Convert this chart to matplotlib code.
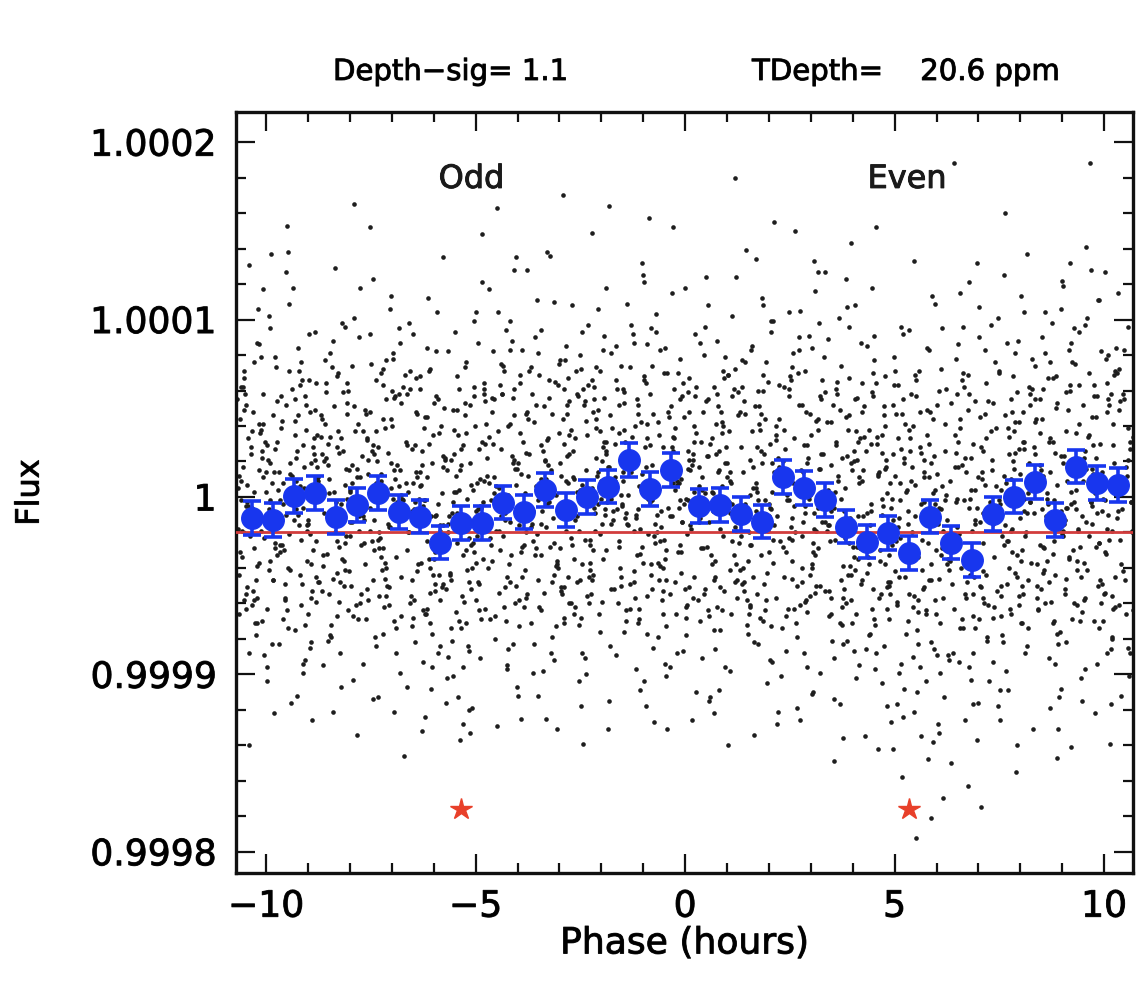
import matplotlib
matplotlib.use("Agg")
import matplotlib.pyplot as plt
import matplotlib.patheffects as pe
from matplotlib.ticker import FixedLocator, MultipleLocator

# ---------------- data ----------------
# binned points: phase (hours) and flux offset (ppm)
bin_phase = [-10.34, -9.84, -9.34, -8.84, -8.34, -7.84, -7.34, -6.84, -6.34, -5.84,
             -5.34, -4.84, -4.34, -3.84, -3.34, -2.84, -2.34, -1.84, -1.34, -0.84,
             -0.34,
             0.34, 0.84, 1.34, 1.84, 2.34, 2.84, 3.34, 3.84, 4.34, 4.84,
             5.34, 5.84, 6.34, 6.84, 7.34, 7.84, 8.34, 8.84, 9.34, 9.84,
             10.34]
bin_ppm = [-12.0, -13.0, 0.6, 2.1, -11.4, -4.5, 2.4, -8.3, -11.1, -25.7,
           -14.8, -14.8, -3.2, -8.3, 3.9, -7.3, -0.2, 5.8, 20.8, 4.3,
           15.2,
           -5.1, -4.5, -9.6, -13.9, 11.4, 4.9, -1.7, -16.7, -25.2, -20.5,
           -31.7, -11.1, -25.7, -35.5, -9.6, 0.2, 8.6, -13.0, 17.1, 7.7,
           6.8]
bin_err_ppm = [9.5] * len(bin_ppm)

model_flux = 0.9999803        # red transit-depth line
star_phase = [-5.35, 5.35]
star_flux = [0.999824, 0.999824]
label_phase = [-5.1, 5.3]
label_text = ["Odd", "Even"]
label_flux = 1.000179

x_ticks = [-10, -5, 0, 5, 10]
y_ticks = [0.9998, 0.9999, 1.0, 1.0001, 1.0002]
y_tick_labels = ["0.9998", "0.9999", "1", "1.0001", "1.0002"]

# unbinned photometry: phase (hours) and flux offset (ppm), estimated by eye
dot_phase = []
dot_ppm = []
# -10.7 .. -9.7
dot_phase += [-10.65,-10.58,-10.52,-10.47,-10.41,-10.36,-10.30,-10.24,-10.19,-10.13]
dot_ppm   += [12,-34,71,-5,-88,28,3,-47,106,-19]
dot_phase += [-10.08,-10.02,-9.97,-9.91,-9.86,-9.80,-9.75,-10.61,-10.44,-10.27]
dot_ppm   += [41,-12,-63,19,8,-29,54,-2,33,-71]
dot_phase += [-10.10,-9.94,-9.77,-10.55,-10.38,-10.21,-10.05,-9.88,-9.72,-10.49]
dot_ppm   += [22,-41,-16,62,-9,87,-23,137,4,-55]
dot_phase += [-10.33,-10.16,-9.99,-9.83,-10.63,-10.45,-10.28,-10.11,-9.95,-9.79]
dot_ppm   += [37,15,-96,46,-31,7,-58,26,-11,79]
dot_phase += [-10.68,-10.52,-10.35,-10.18,-10.01,-9.85,-9.73,-10.40,-10.07,-9.90]
dot_ppm   += [-18,49,-6,-37,14,-83,31,-140,58,-3]
dot_phase += [-10.67,-10.39,-10.12,-9.84,-10.56,-10.26,-9.99,-9.73,-10.48,-10.20]
dot_ppm   += [5,-22,38,-47,17,-8,29,-33,52,-14]
dot_phase += [-9.92,-10.62,-10.34,-10.07,-9.79,-10.53,-10.23,-9.96,-10.43,-10.15]
dot_ppm   += [-2,44,-61,11,-26,67,-39,21,-5,36]
dot_phase += [-9.88,-10.59,-10.31,-10.03,-9.76,-10.51,-10.28,-10.01,-10.64,-10.37]
dot_ppm   += [-18,9,-53,31,-11,58,-29,3,-44,24]
dot_phase += [-10.09,-9.82,-10.45,-10.17,-9.90,-10.57,-10.30,-9.94,-9.78,-10.22]
dot_ppm   += [-70,14,-3,41,-36,-19,76,-7,27,-57]
dot_phase += [-10.60,-10.25,-9.90,-10.45,-10.08,-10.65,-10.32,-9.98,-9.77,-10.53]
dot_ppm   += [62,-78,95,-51,117,-66,48,-104,73,-58]
dot_phase += [-10.17,-9.84,-10.40,-10.04,-10.69,-10.22,-9.94,-10.49,-10.13,-9.81]
dot_ppm   += [86,-47,131,-89,55,-71,102,-63,79,-122]
# -9.7 .. -8.7
dot_phase += [-9.66,-9.60,-9.53,-9.49,-9.42,-9.37,-9.31,-9.26,-9.20,-9.14]
dot_ppm   += [-27,8,52,-74,19,-3,35,-112,-44,66]
dot_phase += [-9.09,-9.03,-8.98,-8.92,-8.87,-8.81,-8.76,-9.63,-9.46,-9.28]
dot_ppm   += [5,-16,92,-38,24,-59,11,43,-21,-7]
dot_phase += [-9.11,-8.95,-8.78,-9.56,-9.39,-9.23,-9.06,-8.89,-8.73,-9.51]
dot_ppm   += [29,-85,17,-49,61,-10,38,-30,2,153]
dot_phase += [-9.34,-9.17,-9.00,-8.84,-9.68,-9.44,-9.29,-9.12,-8.96,-8.80]
dot_ppm   += [-13,76,-66,21,-2,-41,9,-94,48,-25]
dot_phase += [-9.69,-9.55,-9.36,-9.19,-9.02,-8.86,-8.74,-9.41,-9.08,-8.91]
dot_ppm   += [14,-57,118,6,-19,33,-48,-1,57,-126]
dot_phase += [-9.67,-9.39,-9.12,-8.84,-9.56,-9.26,-8.99,-8.73,-9.48,-9.20]
dot_ppm   += [-31,12,-6,49,-58,26,-15,7,-40,63]
dot_phase += [-8.92,-9.62,-9.34,-9.07,-8.79,-9.53,-9.23,-8.96,-9.43,-9.15]
dot_ppm   += [19,-27,4,-72,35,-10,46,-21,13,-49]
dot_phase += [-8.88,-9.59,-9.31,-9.03,-8.76,-9.51,-9.28,-9.01,-9.64,-9.37]
dot_ppm   += [28,-4,55,-36,9,-64,22,-13,39,-1]
dot_phase += [-9.09,-8.82,-9.45,-9.17,-8.90,-9.57,-9.30,-8.94,-8.78,-9.22]
dot_ppm   += [17,-45,71,-24,6,-30,43,-82,10,-16]
dot_phase += [-9.60,-9.25,-8.90,-9.45,-9.08,-9.65,-9.32,-8.98,-8.77,-9.53]
dot_ppm   += [-69,84,-53,109,-92,57,-75,66,-48,127]
dot_phase += [-9.17,-8.84,-9.40,-9.04,-9.69,-9.22,-8.94,-9.49,-9.13,-8.81]
dot_ppm   += [-61,93,-116,52,-83,71,-57,138,-99,64]
# -8.7 .. -7.7
dot_phase += [-8.67,-8.61,-8.55,-8.48,-8.43,-8.38,-8.32,-8.25,-8.21,-8.15]
dot_ppm   += [44,-9,-32,81,-15,3,-67,25,-4,-50]
dot_phase += [-8.10,-8.04,-7.99,-7.93,-7.88,-7.82,-7.76,-8.64,-8.47,-8.30]
dot_ppm   += [16,60,-22,-103,37,-6,11,-39,-78,28]
dot_phase += [-8.13,-7.96,-7.79,-8.58,-8.40,-8.23,-8.07,-7.90,-7.74,-8.52]
dot_ppm   += [7,-14,90,22,-46,-88,-1,51,-27,18]
dot_phase += [-8.35,-8.18,-8.01,-7.85,-8.69,-8.45,-8.28,-8.12,-7.97,-7.80]
dot_ppm   += [129,-35,4,-61,34,-12,70,-26,-8,41]
dot_phase += [-8.66,-8.50,-8.36,-8.19,-8.02,-7.86,-7.72,-8.41,-8.08,-7.91]
dot_ppm   += [-53,10,-20,98,-42,-3,23,-121,64,165]
dot_phase += [-8.67,-8.39,-8.12,-7.84,-8.56,-8.26,-7.99,-7.73,-8.48,-8.20]
dot_ppm   += [24,-9,-41,16,59,-28,3,-55,34,-12]
dot_phase += [-7.92,-8.62,-8.34,-8.07,-7.79,-8.53,-8.23,-7.96,-8.43,-8.15]
dot_ppm   += [-67,20,-3,47,-19,30,-48,8,73,-36]
dot_phase += [-7.88,-8.59,-8.31,-8.03,-7.76,-8.51,-8.28,-8.01,-8.64,-8.37]
dot_ppm   += [-7,41,-25,15,-60,2,37,-14,-33,51]
dot_phase += [-8.09,-7.82,-8.45,-8.17,-7.90,-8.57,-8.30,-7.94,-7.78,-8.22]
dot_ppm   += [-22,11,-79,26,-5,64,-43,18,-11,33]
dot_phase += [-8.60,-8.25,-7.90,-8.45,-8.08,-8.65,-8.32,-7.98,-7.77,-8.53]
dot_ppm   += [77,-59,101,-72,53,-95,68,-50,118,-81]
dot_phase += [-8.17,-7.84,-8.40,-8.04,-8.69,-8.22,-7.94,-8.49,-8.13,-7.81]
dot_ppm   += [59,-134,88,-64,46,-107,74,-55,96,-69]
# -7.7 .. -6.7
dot_phase += [-7.68,-7.62,-7.56,-7.50,-7.44,-7.39,-7.33,-7.27,-7.22,-7.16]
dot_ppm   += [-11,47,-58,5,29,-84,-24,13,72,-37]
dot_phase += [-7.11,-7.05,-6.99,-6.94,-6.88,-6.83,-6.77,-7.65,-7.48,-7.31]
dot_ppm   += [1,-17,40,-70,18,95,-45,-6,26,-29]
dot_phase += [-7.14,-6.97,-6.80,-7.59,-7.42,-7.25,-7.08,-6.91,-6.74,-7.53]
dot_ppm   += [55,-1,-99,33,-13,9,-51,-34,62,-19]
dot_phase += [-7.36,-7.19,-7.02,-6.86,-7.70,-7.46,-7.30,-7.13,-6.98,-6.81]
dot_ppm   += [20,-62,113,-8,37,-114,3,-40,78,15]
dot_phase += [-7.67,-7.52,-7.37,-7.20,-7.03,-6.87,-6.72,-7.43,-7.09,-6.92]
dot_ppm   += [-26,152,8,-77,44,-3,-146,24,-15,57]
dot_phase += [-7.67,-7.39,-7.12,-6.84,-7.56,-7.26,-6.99,-6.73,-7.48,-7.20]
dot_ppm   += [-13,37,-50,6,21,-34,60,-2,-25,44]
dot_phase += [-6.92,-7.62,-7.34,-7.07,-6.79,-7.53,-7.23,-6.96,-7.43,-7.15]
dot_ppm   += [10,-69,28,-17,53,-6,-41,15,-30,77]
dot_phase += [-6.88,-7.59,-7.31,-7.03,-6.76,-7.51,-7.28,-7.01,-7.64,-7.37]
dot_ppm   += [-9,32,-56,19,-1,48,-23,5,-38,66]
dot_phase += [-7.09,-6.82,-7.45,-7.17,-6.90,-7.57,-7.30,-6.94,-6.78,-7.22]
dot_ppm   += [25,-12,-47,39,-74,13,-20,56,1,-29]
dot_phase += [-7.60,-7.25,-6.90,-7.45,-7.08,-7.65,-7.32,-6.98,-6.77,-7.53]
dot_ppm   += [-52,70,-88,123,-61,49,-113,81,-67,92]
dot_phase += [-7.17,-6.84,-7.40,-7.04,-7.69,-7.22,-6.94,-7.49,-7.13,-6.81]
dot_ppm   += [-46,58,-79,106,-94,63,-121,75,-56,87]
# -6.7 .. -5.7
dot_phase += [-6.66,-6.61,-6.54,-6.49,-6.43,-6.37,-6.32,-6.26,-6.20,-6.15]
dot_ppm   += [31,-20,-56,8,67,-38,14,-93,-2,45]
dot_phase += [-6.09,-6.04,-5.98,-5.93,-5.87,-5.81,-5.76,-6.63,-6.46,-6.29]
dot_ppm   += [-71,19,-11,104,-44,2,-28,58,-7,26]
dot_phase += [-6.12,-5.95,-5.78,-6.57,-6.40,-6.24,-6.07,-5.90,-5.73,-6.51]
dot_ppm   += [-35,82,-16,-60,11,39,-108,-4,21,-47]
dot_phase += [-6.34,-6.17,-6.00,-5.84,-6.68,-6.44,-6.27,-6.11,-5.96,-5.79]
dot_ppm   += [6,-25,53,-84,-12,29,-132,71,-53,17]
dot_phase += [-6.65,-6.50,-6.35,-6.18,-6.02,-5.86,-5.71,-6.42,-6.08,-5.91]
dot_ppm   += [-30,92,-1,-66,35,-19,-116,48,-40,-88]
dot_phase += [-6.67,-6.39,-6.12,-5.84,-6.56,-6.26,-5.99,-5.73,-6.48,-6.20]
dot_ppm   += [8,-42,30,-16,61,-5,-35,22,-58,45]
dot_phase += [-5.92,-6.62,-6.34,-6.07,-5.79,-6.53,-6.23,-5.96,-6.43,-6.15]
dot_ppm   += [-24,3,68,-11,-49,27,-2,-31,14,-63]
dot_phase += [-5.88,-6.59,-6.31,-6.03,-5.76,-6.51,-6.28,-6.01,-6.64,-6.37]
dot_ppm   += [36,-20,7,-77,50,-8,18,-44,29,-15]
dot_phase += [-6.09,-5.82,-6.45,-6.17,-5.90,-6.57,-6.30,-5.94,-5.78,-6.22]
dot_ppm   += [-54,40,-3,11,-28,71,-37,-10,23,-66]
dot_phase += [-6.60,-6.25,-5.90,-6.45,-6.08,-6.65,-6.32,-5.98,-5.77,-6.53]
dot_ppm   += [98,-64,55,-82,72,-107,61,-49,135,-73]
dot_phase += [-6.17,-5.84,-6.40,-6.04,-6.69,-6.22,-5.94,-6.49,-6.13,-5.81]
dot_ppm   += [84,-58,47,-96,69,-124,57,-68,112,-51]
# -5.7 .. -4.7
dot_phase += [-5.68,-5.62,-5.55,-5.51,-5.45,-5.39,-5.34,-5.28,-5.22,-5.16]
dot_ppm   += [15,-43,-101,24,-9,61,-74,-18,36,-120]
dot_phase += [-5.11,-5.06,-5.00,-4.94,-4.89,-4.83,-4.78,-5.65,-5.48,-5.31]
dot_ppm   += [-27,4,-58,87,-5,-35,30,-90,12,-128]
dot_phase += [-5.14,-4.97,-4.80,-5.59,-5.42,-5.25,-5.09,-4.92,-4.75,-5.53]
dot_ppm   += [52,-22,9,-47,-113,73,-14,-64,41,-3]
dot_phase += [-5.36,-5.19,-5.03,-4.86,-5.70,-5.46,-5.30,-5.13,-4.98,-4.81]
dot_ppm   += [27,-84,-31,148,-52,3,-96,19,-8,64]
dot_phase += [-5.67,-5.52,-5.37,-5.20,-5.04,-4.88,-4.73,-5.44,-5.10,-4.93]
dot_ppm   += [-15,38,-137,-41,99,-69,22,-26,7,-49]
dot_phase += [-5.67,-5.39,-5.12,-4.84,-5.56,-5.26,-4.99,-4.73,-5.48,-5.20]
dot_ppm   += [-20,4,-52,31,-9,46,-37,12,-65,-1]
dot_phase += [-4.92,-5.62,-5.34,-5.07,-4.79,-5.53,-5.23,-4.96,-5.43,-5.15]
dot_ppm   += [27,-44,18,-26,58,-14,-71,8,35,-48]
dot_phase += [-4.88,-5.59,-5.31,-5.03,-4.76,-5.51,-5.28,-5.01,-5.64,-5.37]
dot_ppm   += [-6,21,-33,62,-18,3,-59,40,-11,15]
dot_phase += [-5.09,-4.82,-5.45,-5.17,-4.90,-5.57,-5.30,-4.94,-4.78,-5.22]
dot_ppm   += [-40,-3,49,-23,10,-81,29,-7,54,-30]
dot_phase += [-5.60,-5.25,-4.90,-5.45,-5.08,-5.65,-5.32,-4.98,-4.77,-5.53]
dot_ppm   += [-74,53,-91,68,-119,82,-56,104,-63,49]
dot_phase += [-5.17,-4.84,-5.40,-5.04,-5.69,-5.22,-4.94,-5.49,-5.13,-4.81]
dot_ppm   += [-87,121,-70,57,-102,76,-48,93,-133,61]
# -4.7 .. -3.7
dot_phase += [-4.67,-4.62,-4.56,-4.50,-4.45,-4.39,-4.33,-4.28,-4.22,-4.17]
dot_ppm   += [8,-36,55,163,-19,27,-62,94,-4,41]
dot_phase += [-4.11,-4.05,-4.00,-3.94,-3.89,-3.83,-3.77,-4.64,-4.47,-4.30]
dot_ppm   += [-83,16,-12,69,-45,2,128,-27,37,-9]
dot_phase += [-4.13,-3.96,-3.79,-4.58,-4.41,-4.25,-4.08,-3.91,-3.74,-4.53]
dot_ppm   += [23,-58,-20,82,-2,-95,46,-31,12,-67]
dot_phase += [-4.36,-4.19,-4.02,-3.86,-4.70,-4.46,-4.29,-4.12,-3.97,-3.80]
dot_ppm   += [58,-14,-107,31,-40,104,-5,19,-73,47]
dot_phase += [-4.66,-4.51,-4.35,-4.19,-4.03,-3.87,-3.72,-4.43,-4.09,-3.92]
dot_ppm   += [-23,6,74,-48,135,-11,24,-30,61,-125]
dot_phase += [-4.67,-4.39,-4.12,-3.84,-4.56,-4.26,-3.99,-3.73,-4.48,-4.20]
dot_ppm   += [34,-11,56,-27,2,-45,19,71,-6,-38]
dot_phase += [-3.92,-4.62,-4.34,-4.07,-3.79,-4.53,-4.23,-3.96,-4.43,-4.15]
dot_ppm   += [13,48,-22,-60,25,-3,40,-16,63,-33]
dot_phase += [-3.88,-4.59,-4.31,-4.03,-3.76,-4.51,-4.28,-4.01,-4.64,-4.37]
dot_ppm   += [-9,30,-51,7,44,-19,-70,16,-2,58]
dot_phase += [-4.09,-3.82,-4.45,-4.17,-3.90,-4.57,-4.30,-3.94,-3.78,-4.22]
dot_ppm   += [21,-41,5,83,-28,11,-13,36,-55,1]
dot_phase += [-4.60,-4.25,-3.90,-4.45,-4.08,-4.65,-4.32,-3.98,-3.77,-4.53]
dot_ppm   += [56,-97,83,-54,128,-69,71,-112,48,-80]
dot_phase += [-4.17,-3.84,-4.40,-4.04,-4.69,-4.22,-3.94,-4.49,-4.13,-3.81]
dot_ppm   += [99,-62,75,-50,117,-86,64,-129,88,-57]
# -3.7 .. -2.7
dot_phase += [-3.68,-3.61,-3.56,-3.50,-3.44,-3.38,-3.33,-3.27,-3.21,-3.16]
dot_ppm   += [-6,42,-29,81,10,-54,-17,33,-88,3]
dot_phase += [-3.10,-3.05,-2.99,-2.93,-2.88,-2.82,-2.77,-3.64,-3.47,-3.30]
dot_ppm   += [65,-38,19,-11,-71,47,24,-99,5,138]
dot_phase += [-3.13,-2.96,-2.79,-3.58,-3.41,-3.24,-3.07,-2.90,-2.73,-3.52]
dot_ppm   += [-26,12,-45,90,-8,56,-131,30,-60,-2]
dot_phase += [-3.35,-3.18,-3.01,-2.85,-3.69,-3.45,-3.29,-3.12,-2.97,-2.80]
dot_ppm   += [21,-79,36,-19,73,-33,-4,110,-51,8]
dot_phase += [-3.66,-3.51,-3.36,-3.19,-3.03,-2.87,-2.72,-3.43,-3.08,-2.91]
dot_ppm   += [-15,-112,51,14,-40,77,-23,-64,1,170]
dot_phase += [-3.67,-3.39,-3.12,-2.84,-3.56,-3.26,-2.99,-2.73,-3.48,-3.20]
dot_ppm   += [-17,26,-44,9,52,-3,-29,38,-62,15]
dot_phase += [-2.92,-3.62,-3.34,-3.07,-2.79,-3.53,-3.23,-2.96,-3.43,-3.15]
dot_ppm   += [44,-8,20,-36,67,-21,3,-53,29,-12]
dot_phase += [-2.88,-3.59,-3.31,-3.03,-2.76,-3.51,-3.28,-3.01,-3.64,-3.37]
dot_ppm   += [61,-33,10,-6,35,-47,18,75,-25,-1]
dot_phase += [-3.09,-2.82,-3.45,-3.17,-2.90,-3.57,-3.30,-2.94,-2.78,-3.22]
dot_ppm   += [-39,23,-15,47,-68,6,32,-10,54,-28]
dot_phase += [-3.60,-3.25,-2.90,-3.45,-3.08,-3.65,-3.32,-2.98,-2.77,-3.53]
dot_ppm   += [-83,66,-51,94,-73,58,-125,77,-60,111]
dot_phase += [-3.17,-2.84,-3.40,-3.04,-3.69,-3.22,-2.94,-3.49,-3.13,-2.81]
dot_ppm   += [-48,85,-98,63,-71,136,-55,69,-92,52]
# -2.7 .. -1.7
dot_phase += [-2.68,-2.62,-2.57,-2.51,-2.45,-2.40,-2.34,-2.28,-2.23,-2.17]
dot_ppm   += [26,-13,58,-47,7,-91,35,-24,149,-6]
dot_phase += [-2.12,-2.06,-2.01,-1.95,-1.89,-1.84,-1.78,-2.65,-2.48,-2.31]
dot_ppm   += [44,-66,-1,83,-30,17,-52,10,-118,63]
dot_phase += [-2.14,-1.97,-1.80,-2.59,-2.42,-2.26,-2.09,-1.92,-1.75,-2.54]
dot_ppm   += [-19,28,-84,3,52,-37,106,-10,39,-72]
dot_phase += [-2.37,-2.20,-2.03,-1.87,-2.69,-2.46,-2.29,-2.13,-1.98,-1.81]
dot_ppm   += [15,-44,71,-3,-27,93,-60,22,-15,164]
dot_phase += [-2.66,-2.52,-2.36,-2.19,-2.04,-1.88,-1.73,-2.44,-2.10,-1.93]
dot_ppm   += [-35,4,-100,48,-21,31,-8,-139,12,56]
dot_phase += [-2.67,-2.39,-2.12,-1.84,-2.56,-2.26,-1.99,-1.73,-2.48,-2.20]
dot_ppm   += [11,-24,39,-2,57,-41,20,-13,72,-30]
dot_phase += [-1.92,-2.62,-2.34,-2.07,-1.79,-2.53,-2.23,-1.96,-2.43,-2.15]
dot_ppm   += [-7,33,-56,14,46,-19,5,-35,61,-9]
dot_phase += [-1.88,-2.59,-2.31,-2.03,-1.76,-2.51,-2.28,-2.01,-2.64,-2.37]
dot_ppm   += [24,-48,2,37,-15,80,-27,9,-62,43]
dot_phase += [-2.09,-1.82,-2.45,-2.17,-1.90,-2.57,-2.30,-1.94,-1.78,-2.22]
dot_ppm   += [-4,17,-38,55,26,-11,-45,31,-1,66]
dot_phase += [-2.60,-2.25,-1.90,-2.45,-2.08,-2.65,-2.32,-1.98,-1.77,-2.53]
dot_ppm   += [71,-55,118,-88,49,-66,97,-59,81,-104]
dot_phase += [-2.17,-1.84,-2.40,-2.04,-2.69,-2.22,-1.94,-2.49,-2.13,-1.81]
dot_ppm   += [62,-131,54,-76,108,-47,91,-68,73,-115]
# -1.7 .. -0.7
dot_phase += [-1.68,-1.63,-1.57,-1.51,-1.46,-1.40,-1.35,-1.29,-1.23,-1.18]
dot_ppm   += [9,61,-25,-4,38,-70,20,97,-42,-12]
dot_phase += [-1.12,-1.07,-1.01,-0.95,-0.90,-0.84,-0.79,-1.65,-1.48,-1.31]
dot_ppm   += [47,-18,125,5,-56,29,-2,-89,14,73]
dot_phase += [-1.14,-0.97,-0.80,-1.59,-1.42,-1.26,-1.09,-0.92,-0.75,-1.54]
dot_ppm   += [-33,-104,18,52,-9,34,-63,86,-22,-45]
dot_phase += [-1.37,-1.20,-1.03,-0.87,-0.72,-1.45,-1.28,-1.13,-0.98,-0.82]
dot_ppm   += [1,40,-28,157,-15,-76,24,-7,66,-38]
dot_phase += [-1.67,-1.53,-1.38,-1.21,-1.05,-0.89,-0.74,-1.44,-1.11,-0.94]
dot_ppm   += [11,-50,109,-19,42,-1,-127,31,-69,17]
dot_phase += [-1.67,-1.39,-1.12,-0.84,-1.56,-1.26,-0.99,-0.73,-1.48,-1.20]
dot_ppm   += [30,-15,52,-3,-40,23,68,-26,9,-57]
dot_phase += [-0.92,-1.62,-1.34,-1.07,-0.79,-1.53,-1.23,-0.96,-1.43,-1.15]
dot_ppm   += [41,-7,17,-32,74,1,-48,28,-12,55]
dot_phase += [-0.88,-1.59,-1.31,-1.03,-0.76,-1.51,-1.28,-1.01,-1.64,-1.37]
dot_ppm   += [-21,36,-63,13,47,-5,22,-37,85,-16]
dot_phase += [-1.09,-0.82,-1.45,-1.17,-0.90,-1.57,-1.30,-0.94,-0.78,-1.22]
dot_ppm   += [6,-44,59,-10,33,-28,14,64,-52,20]
dot_phase += [-1.60,-1.25,-0.90,-1.45,-1.08,-1.65,-1.32,-0.98,-0.77,-1.53]
dot_ppm   += [-60,92,-77,53,-109,66,-49,121,-85,74]
dot_phase += [-1.17,-0.84,-1.40,-1.04,-1.69,-1.22,-0.94,-1.49,-1.13,-0.81]
dot_ppm   += [-97,58,-64,132,-52,87,-118,61,-71,95]
# -0.7 .. 0.3
dot_phase += [-0.68,-0.63,-0.57,-0.51,-0.46,-0.40,-0.35,-0.29,-0.23,-0.18]
dot_ppm   += [-20,35,-8,70,-47,13,-96,26,4,-31]
dot_phase += [-0.12,-0.07,-0.01,0.05,0.10,0.16,0.21,-0.65,-0.48,-0.31]
dot_ppm   += [55,-14,118,-61,21,-3,40,-37,84,-11]
dot_phase += [-0.14,0.03,0.20,-0.59,-0.42,-0.26,-0.09,0.08,0.25,-0.54]
dot_ppm   += [8,-78,31,-25,-6,61,-43,16,-110,28]
dot_phase += [-0.37,-0.20,-0.03,0.13,-0.70,-0.45,-0.28,-0.13,0.02,0.18]
dot_ppm   += [-55,7,45,-18,93,-30,152,-2,-68,24]
dot_phase += [-0.66,-0.52,-0.36,-0.19,-0.04,0.12,0.27,-0.44,-0.10,0.09]
dot_ppm   += [3,-40,19,-88,64,-16,36,-131,10,-51]
dot_phase += [-0.67,-0.39,-0.12,0.16,-0.56,-0.26,0.01,0.27,-0.48,-0.20]
dot_ppm   += [-10,45,-27,18,-58,33,-1,62,-35,9]
dot_phase += [0.08,-0.62,-0.34,-0.07,0.21,-0.53,-0.23,0.04,-0.43,-0.15]
dot_ppm   += [26,-47,51,-14,3,-66,39,-21,70,-6]
dot_phase += [0.12,-0.59,-0.31,-0.03,0.24,-0.51,-0.28,-0.01,-0.64,-0.37]
dot_ppm   += [15,-39,28,-4,57,-24,8,-52,42,-11]
dot_phase += [-0.09,0.18,-0.45,-0.17,0.10,-0.57,-0.30,0.06,0.22,-0.22]
dot_ppm   += [-31,21,-73,12,48,-17,34,-2,-45,19]
dot_phase += [-0.60,-0.25,0.10,-0.45,-0.08,-0.65,-0.32,0.02,0.23,-0.53]
dot_ppm   += [83,-48,67,-101,57,-79,115,-62,92,-53]
dot_phase += [-0.17,0.16,-0.40,-0.04,-0.69,-0.22,0.06,-0.49,-0.13,0.19]
dot_ppm   += [70,-126,48,-87,103,-66,59,-94,78,-57]
# 0.3 .. 1.3
dot_phase += [0.32,0.38,0.43,0.49,0.55,0.60,0.66,0.72,0.77,0.83]
dot_ppm   += [17,-29,48,-7,-64,30,2,-45,88,-18]
dot_phase += [0.88,0.94,0.99,1.05,1.11,1.16,1.22,0.35,0.52,0.69]
dot_ppm   += [36,-96,11,-3,57,-33,124,-12,23,-75]
dot_phase += [0.86,1.03,1.20,0.41,0.58,0.74,0.91,1.08,1.25,0.46]
dot_ppm   += [-8,69,-48,4,-115,41,-22,14,-57,80]
dot_phase += [0.63,0.80,0.97,1.13,1.29,0.54,0.71,0.87,1.02,1.18]
dot_ppm   += [-38,26,-1,102,-26,55,-86,6,-140,180]
dot_phase += [0.34,0.48,0.64,0.81,0.96,1.12,1.27,0.56,0.90,1.07]
dot_ppm   += [-14,-52,33,-109,19,-4,46,-67,71,9]
dot_phase += [0.33,0.61,0.88,1.16,0.44,0.74,1.01,1.27,0.52,0.80]
dot_ppm   += [6,-33,42,-12,-55,24,-3,59,-28,15]
dot_phase += [1.08,0.38,0.66,0.93,1.21,0.47,0.77,1.04,0.57,0.85]
dot_ppm   += [-41,31,-8,67,-19,2,-62,37,-14,48]
dot_phase += [1.12,0.41,0.69,0.97,1.24,0.49,0.72,0.99,0.36,0.63]
dot_ppm   += [-25,11,-47,28,-6,54,-36,19,-70,3]
dot_phase += [0.91,1.18,0.55,0.83,1.10,0.43,0.70,1.06,1.22,0.78]
dot_ppm   += [40,-17,23,-51,8,-29,62,-9,-38,14]
dot_phase += [0.40,0.75,1.10,0.55,0.92,0.35,0.68,1.02,1.23,0.47]
dot_ppm   += [-91,58,-66,108,-53,87,-122,69,-47,96]
dot_phase += [0.83,1.16,0.60,0.96,0.31,0.78,1.06,0.51,0.87,1.19]
dot_ppm   += [-75,61,-113,79,-58,51,-98,124,-64,72]
# 1.3 .. 2.3
dot_phase += [1.32,1.37,1.43,1.49,1.54,1.60,1.65,1.71,1.77,1.82]
dot_ppm   += [-41,14,76,-9,-27,37,-82,3,51,-15]
dot_phase += [1.88,1.94,1.99,2.05,2.10,2.16,2.21,1.35,1.52,1.69]
dot_ppm   += [24,-58,-4,99,-37,12,-121,62,-20,8]
dot_phase += [1.86,2.03,2.20,1.41,1.58,1.74,1.91,2.08,2.25,1.46]
dot_ppm   += [-70,30,-11,-48,83,-2,44,-93,17,139]
dot_phase += [1.63,1.80,1.97,2.13,2.29,1.54,1.71,1.87,2.02,2.18]
dot_ppm   += [5,-33,65,-16,-101,21,-55,108,-6,40]
dot_phase += [1.34,1.48,1.64,1.81,1.96,2.12,2.27,1.56,1.90,2.07]
dot_ppm   += [28,-12,-134,47,-43,155,-25,1,-64,19]
dot_phase += [1.33,1.61,1.88,2.16,1.44,1.74,2.01,2.27,1.52,1.80]
dot_ppm   += [-22,17,-49,35,-4,60,-31,10,-66,26]
dot_phase += [2.08,1.38,1.66,1.93,2.21,1.47,1.77,2.04,1.57,1.85]
dot_ppm   += [3,-40,51,-15,22,-58,41,-7,-27,69]
dot_phase += [2.12,1.41,1.69,1.97,2.24,1.49,1.72,1.99,1.36,1.63]
dot_ppm   += [14,-53,5,-19,44,-36,28,-11,77,-45]
dot_phase += [1.91,2.18,1.55,1.83,2.10,1.43,1.70,2.06,2.22,1.78]
dot_ppm   += [-2,32,-62,19,-24,47,-8,-73,13,38]
dot_phase += [1.40,1.75,2.10,1.55,1.92,1.35,1.68,2.02,2.23,1.47]
dot_ppm   += [54,-83,99,-61,76,-49,134,-92,63,-72]
dot_phase += [1.83,2.16,1.60,1.96,1.31,1.78,2.06,1.51,1.87,2.19]
dot_ppm   += [112,-57,85,-105,48,-68,93,-77,60,-128]
# 2.3 .. 3.3
dot_phase += [2.32,2.37,2.43,2.49,2.54,2.60,2.66,2.71,2.77,2.82]
dot_ppm   += [12,-45,-2,61,-24,33,-79,90,7,-14]
dot_phase += [2.88,2.93,2.99,3.05,3.10,3.16,3.21,2.35,2.52,2.69]
dot_ppm   += [-58,22,47,-31,116,-6,-99,38,-17,3]
dot_phase += [2.86,3.03,3.20,2.41,2.58,2.74,2.91,3.08,3.25,2.46]
dot_ppm   += [71,-40,16,-87,8,-126,29,-9,55,-63]
dot_phase += [2.63,2.80,2.97,3.13,3.29,2.54,2.71,2.87,3.02,3.18]
dot_ppm   += [150,-22,1,-50,24,-36,83,-5,-111,44]
dot_phase += [2.34,2.48,2.64,2.81,2.96,3.12,3.27,2.56,2.90,3.07]
dot_ppm   += [-28,104,-71,14,-1,-19,66,-46,19,133]
dot_phase += [2.33,2.61,2.88,3.16,2.44,2.74,3.01,3.27,2.52,2.80]
dot_ppm   += [20,-5,48,-29,11,-61,35,-14,66,-40]
dot_phase += [3.08,2.38,2.66,2.93,3.21,2.47,2.77,3.04,2.57,2.85]
dot_ppm   += [-18,27,-50,4,57,-23,15,-38,81,-9]
dot_phase += [3.12,2.41,2.69,2.97,3.24,2.49,2.72,2.99,2.36,2.63]
dot_ppm   += [43,-31,7,-56,24,-2,52,-44,13,-20]
dot_phase += [2.91,3.18,2.55,2.83,3.10,2.43,2.70,3.06,3.22,2.78]
dot_ppm   += [-65,38,-12,29,-33,1,70,-26,16,-48]
dot_phase += [2.40,2.75,3.10,2.55,2.92,2.35,2.68,3.02,3.23,2.47]
dot_ppm   += [-67,105,-54,73,-96,62,-119,84,-50,57]
dot_phase += [2.83,3.16,2.60,2.96,2.31,2.78,3.06,2.51,2.87,3.19]
dot_ppm   += [-88,127,-63,91,-74,52,-110,68,-59,98]
# 3.3 .. 4.3
dot_phase += [3.32,3.38,3.43,3.49,3.55,3.60,3.66,3.71,3.77,3.82]
dot_ppm   += [-6,42,-53,18,-91,29,-20,74,-39,5]
dot_phase += [3.88,3.94,3.99,4.05,4.10,4.16,4.22,3.35,3.52,3.69]
dot_ppm   += [38,-12,-71,108,-28,11,-47,59,-4,-117]
dot_phase += [3.86,4.03,4.20,3.41,3.58,3.74,3.91,4.08,4.25,3.46]
dot_ppm   += [23,-34,87,-16,3,-62,46,-102,15,-25]
dot_phase += [3.63,3.80,3.97,4.13,4.29,3.54,3.71,3.87,4.02,4.18]
dot_ppm   += [65,-8,-44,31,-135,52,-1,-81,20,-29]
dot_phase += [3.34,3.48,3.64,3.81,3.96,4.12,4.27,3.56,3.90,4.07]
dot_ppm   += [127,-57,9,-23,143,-11,34,-149,96,-66]
dot_phase += [3.33,3.61,3.88,4.16,3.44,3.74,4.01,4.27,3.52,3.80]
dot_ppm   += [-14,31,-44,8,-67,22,-28,51,-3,-52]
dot_phase += [4.08,3.38,3.66,3.93,4.21,3.47,3.77,4.04,3.57,3.85]
dot_ppm   += [37,-19,12,-39,64,-8,-57,26,-24,45]
dot_phase += [4.12,3.41,3.69,3.97,4.24,3.49,3.72,3.99,3.36,3.63]
dot_ppm   += [-35,4,-71,19,-11,42,-47,15,-2,58]
dot_phase += [3.91,4.18,3.55,3.83,4.10,3.43,3.70,4.06,4.22,3.78]
dot_ppm   += [-26,33,-6,-60,21,-16,49,-41,9,-83]
dot_phase += [3.40,3.75,4.10,3.55,3.92,3.35,3.68,4.02,4.23,3.47]
dot_ppm   += [89,-72,56,-114,67,-53,101,-87,48,-66]
dot_phase += [3.83,4.16,3.60,3.96,3.31,3.78,4.06,3.51,3.87,4.19]
dot_ppm   += [123,-95,61,-58,79,-136,55,-81,107,-49]
# 4.3 .. 5.3
dot_phase += [4.32,4.38,4.43,4.49,4.54,4.60,4.66,4.71,4.77,4.82]
dot_ppm   += [26,-38,-4,57,-72,13,-19,-105,40,-51]
dot_phase += [4.88,4.93,4.99,5.05,5.10,5.16,5.22,4.35,4.52,4.69]
dot_ppm   += [8,-27,79,-61,-12,-94,22,-43,91,-1]
dot_phase += [4.86,5.03,5.20,4.41,4.58,4.74,4.91,5.08,5.25,4.46]
dot_ppm   += [-33,47,-124,-16,30,-84,-6,63,-45,118]
dot_phase += [4.63,4.80,4.97,5.13,5.29,4.54,4.71,4.87,5.02,5.18]
dot_ppm   += [-57,17,-142,-23,4,-97,35,-69,12,-158]
dot_phase += [4.34,4.48,4.64,4.81,4.96,5.12,5.27,4.56,4.90,5.07]
dot_ppm   += [-9,70,-30,-118,24,-2,-77,152,-48,33]
dot_phase += [4.33,4.61,4.88,5.16,4.44,4.74,5.01,5.27,4.52,4.80]
dot_ppm   += [-30,12,-55,27,-8,46,-42,3,-69,21]
dot_phase += [5.08,4.38,4.66,4.93,5.21,4.47,4.77,5.04,4.57,4.85]
dot_ppm   += [-17,38,-36,-1,55,-63,16,-25,34,-48]
dot_phase += [5.12,4.41,4.69,4.97,5.24,4.49,4.72,4.99,4.36,4.63]
dot_ppm   += [8,-77,25,-13,41,-52,-5,63,-34,14]
dot_phase += [4.91,5.18,4.55,4.83,5.10,4.43,4.70,5.06,5.22,4.78]
dot_ppm   += [-21,47,-88,2,-45,30,-10,-59,19,-38]
dot_phase += [4.40,4.75,5.10,4.55,4.92,4.35,4.68,5.02,5.23,4.47]
dot_ppm   += [-78,51,-99,64,-127,85,-55,71,-108,59]
dot_phase += [4.83,5.16,4.60,4.96,4.31,4.78,5.06,4.51,4.87,5.19]
dot_ppm   += [-63,96,-142,52,-86,68,-117,77,-50,92]
# 5.3 .. 6.3
dot_phase += [5.32,5.37,5.43,5.49,5.54,5.60,5.66,5.71,5.77,5.82]
dot_ppm   += [-15,33,-62,7,-110,48,-24,-3,84,-47]
dot_phase += [5.88,5.94,5.99,6.05,6.10,6.16,6.21,5.35,5.52,5.69]
dot_ppm   += [19,-86,-30,60,-7,-170,26,-55,-192,11]
dot_phase += [5.86,6.03,6.20,5.41,5.58,5.74,5.91,6.08,6.25,5.46]
dot_ppm   += [-38,-128,41,-20,71,-66,2,-99,-13,133]
dot_phase += [5.63,5.80,5.97,6.13,6.29,5.54,5.71,5.87,6.02,6.18]
dot_ppm   += [25,-148,-4,95,-41,-75,14,-181,52,-27]
dot_phase += [5.34,5.48,5.64,5.81,5.96,6.12,6.27,5.56,5.90,6.07]
dot_ppm   += [38,-11,-135,30,-58,6,-89,-34,113,-6]
dot_phase += [5.33,5.61,5.88,6.16,5.44,5.74,6.01,6.27,5.52,5.80]
dot_ppm   += [-8,28,-47,-19,40,-64,13,-35,57,-26]
dot_phase += [6.08,5.38,5.66,5.93,6.21,5.47,5.77,6.04,5.57,5.85]
dot_ppm   += [-71,9,-41,23,-2,-56,35,-15,-83,48]
dot_phase += [6.12,5.41,5.69,5.97,6.24,5.49,5.72,5.99,5.36,5.63]
dot_ppm   += [-29,17,-51,4,-38,69,-12,-66,26,-4]
dot_phase += [5.91,6.18,5.55,5.83,6.10,5.43,5.70,6.06,6.22,5.78]
dot_ppm   += [44,-23,-58,11,-33,-90,21,-46,1,-16]
dot_phase += [5.40,5.75,6.10,5.55,5.92,5.35,5.68,6.02,6.23,5.47]
dot_ppm   += [58,-104,72,-65,-138,94,-52,-89,61,-121]
dot_phase += [5.83,6.16,5.60,5.96,5.31,5.78,6.06,5.51,5.87,6.19]
dot_ppm   += [83,-57,-96,109,-70,49,-133,66,-82,-113]
# 6.3 .. 7.3
dot_phase += [6.32,6.37,6.43,6.49,6.54,6.60,6.66,6.71,6.77,6.82]
dot_ppm   += [9,-49,35,-17,-93,66,-2,-36,121,22]
dot_phase += [6.88,6.93,6.99,7.05,7.10,7.16,7.22,6.35,6.52,6.69]
dot_ppm   += [-67,4,-116,45,-26,83,-9,-150,17,-55]
dot_phase += [6.86,7.03,7.20,6.41,6.58,6.74,6.91,7.08,7.25,6.46]
dot_ppm   += [30,-14,-79,188,-40,-163,54,10,-104,-3]
dot_phase += [6.63,6.80,6.97,7.13,7.29,6.54,6.71,6.87,7.02,7.18]
dot_ppm   += [96,-31,-6,-60,37,-21,14,-88,107,-44]
dot_phase += [6.34,6.48,6.64,6.81,6.96,7.12,7.27,6.56,6.90,7.07]
dot_ppm   += [-28,58,-74,-1,-137,26,-12,44,-45,-175]
dot_phase += [6.33,6.61,6.88,7.16,6.44,6.74,7.01,7.27,6.52,6.80]
dot_ppm   += [-36,18,-55,7,-24,49,-69,-3,31,-44]
dot_phase += [7.08,6.38,6.66,6.93,7.21,6.47,6.77,7.04,6.57,6.85]
dot_ppm   += [14,-28,62,-13,-81,25,-6,-50,39,-19]
dot_phase += [7.12,6.41,6.69,6.97,7.24,6.49,6.72,6.99,6.36,6.63]
dot_ppm   += [-9,-63,22,-37,54,-1,-48,11,-26,70]
dot_phase += [6.91,7.18,6.55,6.83,7.10,6.43,6.70,7.06,7.22,6.78]
dot_ppm   += [-15,33,-74,4,-42,17,-57,28,-11,-96]
dot_phase += [6.40,6.75,7.10,6.55,6.92,6.35,6.68,7.02,7.23,6.47]
dot_ppm   += [-88,69,-57,115,-74,53,-126,90,-61,78]
dot_phase += [6.83,7.16,6.60,6.96,6.31,6.78,7.06,6.51,6.87,7.19]
dot_ppm   += [-103,47,-69,132,-92,58,-51,86,-117,64]
# 7.3 .. 8.3
dot_phase += [7.32,7.38,7.43,7.49,7.54,7.60,7.66,7.71,7.77,7.82]
dot_ppm   += [21,-34,-7,70,-56,12,-98,39,-19,5]
dot_phase += [7.88,7.94,7.99,8.05,8.10,8.16,8.22,7.35,7.52,7.69]
dot_ppm   += [-43,88,-12,-71,27,137,-3,53,-126,-25]
dot_phase += [7.86,8.03,8.20,7.41,7.58,7.74,7.91,8.08,8.25,7.46]
dot_ppm   += [16,-50,62,-9,-82,34,-140,-1,-37,101]
dot_phase += [7.63,7.80,7.97,8.13,8.29,7.54,7.71,7.87,8.02,8.18]
dot_ppm   += [-16,48,-61,-20,78,4,-109,25,113,-47]
dot_phase += [7.34,7.48,7.64,7.81,7.96,8.12,8.27,7.56,7.90,8.07]
dot_ppm   += [-68,-2,160,-31,42,-88,11,-22,-155,31]
dot_phase += [7.33,7.61,7.88,8.16,7.44,7.74,8.01,8.27,7.52,7.80]
dot_ppm   += [15,-27,42,-9,-53,24,-36,61,-4,-18]
dot_phase += [8.08,7.38,7.66,7.93,8.21,7.47,7.77,8.04,7.57,7.85]
dot_ppm   += [31,-62,8,-45,19,-11,55,-30,-78,37]
dot_phase += [8.12,7.41,7.69,7.97,8.24,7.49,7.72,7.99,7.36,7.63]
dot_ppm   += [-22,6,-49,27,-3,71,-40,13,-15,46]
dot_phase += [7.91,8.18,7.55,7.83,8.10,7.43,7.70,8.06,8.22,7.78]
dot_ppm   += [-33,2,-67,20,-8,39,-25,-55,58,10]
dot_phase += [7.40,7.75,8.10,7.55,7.92,7.35,7.68,8.02,8.23,7.47]
dot_ppm   += [76,-63,104,-50,59,-93,87,-71,52,-118]
dot_phase += [7.83,8.16,7.60,7.96,7.31,7.78,8.06,7.51,7.87,8.19]
dot_ppm   += [68,-84,125,-56,97,-66,48,-109,81,-74]
# 8.3 .. 9.3
dot_phase += [8.32,8.38,8.43,8.49,8.54,8.60,8.66,8.71,8.77,8.82]
dot_ppm   += [-9,44,-63,15,-28,81,-4,-119,31,-44]
dot_phase += [8.88,8.94,8.99,9.05,9.10,9.16,9.22,8.35,8.52,8.69]
dot_ppm   += [7,-76,122,-15,59,-35,-141,24,-7,-91]
dot_phase += [8.86,9.03,9.20,8.41,8.58,8.74,8.91,9.08,9.25,8.46]
dot_ppm   += [68,-22,3,-50,104,-12,-83,37,-30,18]
dot_phase += [8.63,8.80,8.97,9.13,9.29,8.54,8.71,8.87,9.02,9.18]
dot_ppm   += [-36,-2,-108,49,-60,12,76,-147,-19,132]
dot_phase += [8.34,8.48,8.64,8.81,8.96,9.12,9.27,8.56,8.90,9.07]
dot_ppm   += [55,-27,2,-70,23,-6,95,-41,-131,-55]
dot_phase += [8.33,8.61,8.88,9.16,8.44,8.74,9.01,9.27,8.52,8.80]
dot_ppm   += [28,-11,53,-34,6,-59,19,-3,44,-25]
dot_phase += [9.08,8.38,8.66,8.93,9.21,8.47,8.77,9.04,8.57,8.85]
dot_ppm   += [-46,12,67,-18,-4,36,-71,23,-29,50]
dot_phase += [9.12,8.41,8.69,8.97,9.24,8.49,8.72,8.99,8.36,8.63]
dot_ppm   += [9,-38,31,-8,76,-52,14,-21,42,-1]
dot_phase += [8.91,9.18,8.55,8.83,9.10,8.43,8.70,9.06,9.22,8.78]
dot_ppm   += [-17,60,-43,25,-6,-64,33,-13,87,-32]
dot_phase += [8.40,8.75,9.10,8.55,8.92,8.35,8.68,9.02,9.23,8.47]
dot_ppm   += [-57,98,-82,61,-113,74,-48,119,-69,55]
dot_phase += [8.83,9.16,8.60,8.96,8.31,8.78,9.06,8.51,8.87,9.19]
dot_ppm   += [-94,83,-60,106,-131,67,-52,90,-77,63]
# 9.3 .. 10.3
dot_phase += [9.32,9.37,9.43,9.49,9.54,9.60,9.66,9.71,9.77,9.82]
dot_ppm   += [36,-18,-70,9,97,-41,188,-5,57,-94]
dot_phase += [9.88,9.94,9.99,10.05,10.10,10.16,10.21,9.35,9.52,9.69]
dot_ppm   += [-26,14,-55,78,-10,-117,41,-36,22,-3]
dot_phase += [9.86,10.03,10.20,9.41,9.58,9.74,9.91,10.08,10.25,9.46]
dot_ppm   += [111,-31,-80,63,-14,29,-47,7,-62,-102]
dot_phase += [9.63,9.80,9.97,10.13,10.29,9.54,9.71,9.87,10.02,10.18]
dot_ppm   += [-22,45,-1,-139,84,-57,16,-74,127,-19]
dot_phase += [9.34,9.48,9.64,9.81,9.96,10.12,10.27,9.56,9.90,10.07]
dot_ppm   += [4,-65,70,-28,-8,52,-45,141,30,-88]
dot_phase += [9.33,9.61,9.88,10.16,9.44,9.74,10.01,10.27,9.52,9.80]
dot_ppm   += [-7,34,-26,58,-45,13,-2,71,-37,22]
dot_phase += [10.08,9.38,9.66,9.93,10.21,9.47,9.77,10.04,9.57,9.85]
dot_ppm   += [48,-19,8,-60,29,-11,63,-32,16,-50]
dot_phase += [10.12,9.41,9.69,9.97,10.24,9.49,9.72,9.99,9.36,9.63]
dot_ppm   += [-24,41,-3,-70,19,52,-15,6,-41,35]
dot_phase += [9.91,10.18,9.55,9.83,10.10,9.43,9.70,10.06,10.22,9.78]
dot_ppm   += [11,-56,26,-9,80,-28,45,-18,-63,2]
dot_phase += [9.40,9.75,10.10,9.55,9.92,9.35,9.68,10.02,10.23,9.47]
dot_ppm   += [93,-70,55,-97,82,-61,128,-54,69,-115]
dot_phase += [9.83,10.16,9.60,9.96,9.31,9.78,10.06,9.51,9.87,10.19]
dot_ppm   += [57,-86,101,-49,75,-122,64,-58,111,-79]
# 10.3 .. 10.7
dot_phase += [10.32,10.36,10.40,10.44,10.48,10.52,10.56,10.60,10.64,10.68]
dot_ppm   += [-12,49,-38,6,83,-66,21,-101,-3,34]
dot_phase += [10.34,10.38,10.42,10.46,10.50,10.54,10.58,10.62,10.66,10.31]
dot_ppm   += [115,-24,-7,58,-47,12,-85,27,-19,70]
dot_phase += [10.33,10.61,10.44,10.52,10.39,10.67,10.47,10.36,10.57,10.65]
dot_ppm   += [-8,31,-42,17,54,-20,4,-61,39,-3]
dot_phase += [10.35,10.63,10.48,10.41,10.56,10.68]
dot_ppm   += [72,-88,55,-112,96,-64]

# ---------------- figure ----------------
plt.rcParams['font.family'] = ['DejaVu Sans']
fig = plt.figure(figsize=(11.48, 9.84), dpi=100)
ax = fig.add_axes([236 / 1148, 111 / 984, (1133 - 236) / 1148, (873 - 112) / 984])

dot_flux = [1.0 + v * 1e-6 for v in dot_ppm]
bin_flux = [1.0 + v * 1e-6 for v in bin_ppm]
bin_err = [v * 1e-6 for v in bin_err_ppm]

ax.scatter(dot_phase, dot_flux, s=11, color='#1e1e1e', linewidths=0, zorder=2)
ax.axhline(model_flux, color='#d23c3c', lw=2.0, zorder=3)
ax.errorbar(bin_phase, bin_flux, yerr=bin_err, fmt='o', color='#1836ee',
            ecolor='#1836ee', markersize=15.5, elinewidth=2.6, capsize=6.5,
            capthick=2.6, zorder=4)
ax.plot(star_phase, star_flux, linestyle='none', marker='*', color='#e8402a',
        markersize=16, zorder=5)

heavy = [pe.withStroke(linewidth=0.7, foreground='#1a1a1a')]
for xp, t in zip(label_phase, label_text):
    ax.text(xp, label_flux, t, ha='center', va='center', fontsize=23,
            color='#1a1a1a', path_effects=heavy)

ax.set_xlim(-10.72, 10.69)
ax.set_ylim(0.999788, 1.000217)
ax.xaxis.set_major_locator(FixedLocator(x_ticks))
ax.xaxis.set_minor_locator(MultipleLocator(1))
ax.set_xticklabels(['\u2212' + str(abs(v)) if v < 0 else str(v) for v in x_ticks])
ax.yaxis.set_major_locator(FixedLocator(y_ticks))
ax.yaxis.set_minor_locator(MultipleLocator(0.00002))
ax.set_yticklabels(y_tick_labels)

ax.tick_params(which='both', direction='in', top=True, right=True, width=1.6,
               color='#111111')
ax.tick_params(which='major', length=14)
ax.tick_params(which='minor', length=7)
ax.tick_params(axis='x', which='major', labelsize=26, pad=12)
ax.tick_params(axis='y', which='major', labelsize=26, pad=14)
for lab in ax.get_xticklabels() + ax.get_yticklabels():
    lab.set_path_effects(heavy)
for sp in ax.spines.values():
    sp.set_linewidth(2.4)
    sp.set_color('#111111')

ax.set_xlabel('Phase (hours)', fontsize=26, labelpad=2, path_effects=heavy)
ax.set_ylabel('Flux', fontsize=23, labelpad=32, path_effects=heavy)

fig.text(333 / 1148, 1 - 72 / 984, 'Depth\u2212sig= 1.1', fontsize=21,
         ha='left', va='center', path_effects=heavy)
fig.text(752 / 1148, 1 - 72 / 984, 'TDepth=    20.6 ppm', fontsize=21,
         ha='left', va='center', path_effects=heavy)

fig.savefig('out.png', dpi=100, facecolor='white')
